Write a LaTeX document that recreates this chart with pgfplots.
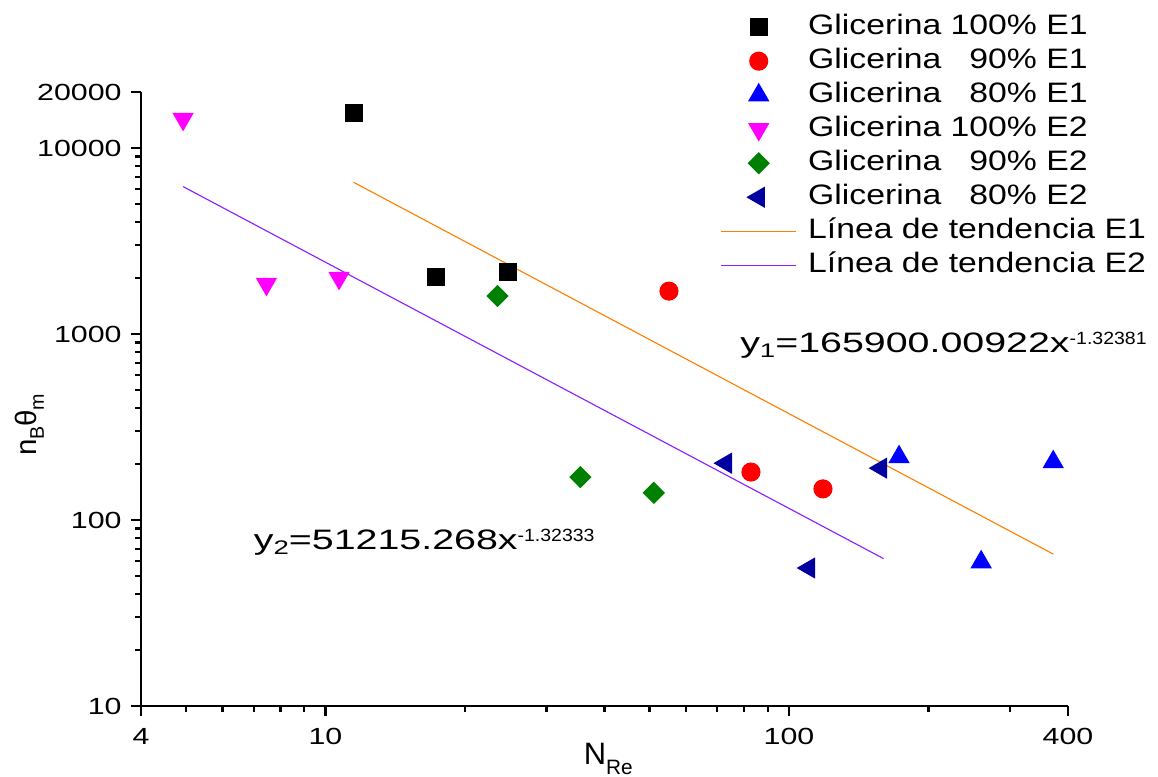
\documentclass[border=0pt]{standalone}
\usepackage{fontspec}
\setmainfont{Liberation Sans}
\newfontfamily\legfont{Liberation Sans}[FakeStretch=1.2]
\newfontfamily\tickfont{Liberation Sans}[FakeStretch=1.3]
\newfontfamily\annfont{Liberation Sans}[FakeStretch=1.4]
\newfontfamily\supfont{Liberation Sans}[FakeStretch=1.1]
\usepackage{pgfplots}
\pgfplotsset{compat=1.18}
\definecolor{trendA}{RGB}{255,128,0}
\definecolor{trendB}{RGB}{140,30,255}
\definecolor{navyB}{RGB}{0,0,160}
\definecolor{greenB}{RGB}{0,128,0}
\definecolor{magB}{RGB}{255,0,255}
\definecolor{redB}{RGB}{255,0,0}
\definecolor{blueB}{RGB}{0,0,255}

\begin{document}
\begin{tikzpicture}
\useasboundingbox (-1.7625,-0.875) rectangle (12.7125,8.825);
\begin{loglogaxis}[
scale only axis,
width=11.5875cm,
height=7.675cm,
xmin=4, xmax=400,
ymin=10, ymax=20000,
axis lines*=left,
axis line style={line width=0.9pt},
tick align=outside,
major tick length=0.12cm,
minor tick length=0.07cm,
tick style={black, line width=0.8pt},
xtick={4,10,100,400},
xticklabels={4,10,100,400},
minor xtick={5,6,7,8,9,20,30,40,50,60,70,80,90,200,300},
ytick={10,100,1000,10000,20000},
yticklabels={10,100,1000,10000,20000},
minor ytick={20,30,40,50,60,70,80,90,200,300,400,500,600,700,800,900,2000,3000,4000,5000,6000,7000,8000,9000},
tick label style={font=\tickfont\fontsize{8.3}{10}\selectfont},
xticklabel style={yshift=-1pt},
xlabel={N\raisebox{-3.5pt}{\fontsize{7.4}{9}\selectfont Re}},
xlabel style={at={(axis description cs:0.504,-0.096)}, anchor=base, inner sep=0pt, font=\fontsize{11}{13}\selectfont},
ylabel={n\raisebox{-2.5pt}{\fontsize{7}{8}\selectfont B}θ\raisebox{-2.5pt}{\fontsize{7}{8}\selectfont m}},
ylabel style={at={(axis description cs:-0.12,0.458)}, anchor=center, font=\fontsize{10.5}{12}\selectfont},
legend cell align=left,
legend image code/.code={\draw[mark repeat=2,mark phase=2,#1] plot coordinates {(0cm,0cm) (0.47cm,0cm) (0.94cm,0cm)};},
legend style={at={(axis description cs:0.6246,1.134)}, anchor=north west, draw=none, fill=none,
  font=\legfont\fontsize{10}{12}\selectfont, inner sep=0pt, row sep=0.1pt, column sep=3pt,
  nodes={inner sep=1pt, text height=7.5pt, text depth=2.5pt}},
clip=false,
]
% E1
\addplot[only marks, mark=square*, mark size=3pt, black] coordinates {
(11.5,15400) (17.3,2025) (24.8,2155)
};
\addlegendentry{Glicerina 100\% E1}
\addplot[only marks, mark=*, mark size=3.2pt, redB] coordinates {
(55.1,1700) (82.8,181) (118.4,147)
};
\addlegendentry{Glicerina \phantom{1}90\% E1}
\addplot[only marks, mark=triangle*, mark size=4pt, blueB] coordinates {
(172.8,218) (259.8,59.4) (371.7,205)
};
\addlegendentry{Glicerina \phantom{1}80\% E1}
% E2
\addplot[only marks, mark=triangle*, mark size=4pt, magB, mark options={rotate=180}] coordinates {
(4.93,14320) (7.46,1857) (10.7,2000)
};
\addlegendentry{Glicerina 100\% E2}
\addplot[only marks, mark=square*, mark size=2.6pt, greenB, mark options={rotate=45}] coordinates {
(23.5,1600) (35.5,170) (51.1,140)
};
\addlegendentry{Glicerina \phantom{1}90\% E2}
\addplot[only marks, mark=triangle*, mark size=4pt, navyB, mark options={rotate=90}] coordinates {
(73.1,202) (110.5,55.2) (158,190)
};
\addlegendentry{Glicerina \phantom{1}80\% E2}
% trend lines
\addplot[trendA, line width=0.4pt, no markers] coordinates {
(11.5,6540) (372,65.5)
};
\addlegendentry{Línea de tendencia E1}
\addplot[trendB, line width=0.4pt, no markers] coordinates {
(4.93,6200) (160,62)
};
\addlegendentry{Línea de tendencia E2}
\node[anchor=base west, inner sep=0pt, font=\annfont\fontsize{10}{12}\selectfont] at (axis cs:78.3,800)
  {y\raisebox{-1.8pt}{\fontsize{7}{8}\selectfont 1}=165900.00922x\raisebox{2.8pt}{\supfont\fontsize{6.3}{8}\selectfont -1.32381}};
\node[anchor=base west, inner sep=0pt, font=\annfont\fontsize{10}{12}\selectfont] at (axis cs:6.99,69.8)
  {y\raisebox{-1.8pt}{\fontsize{7}{8}\selectfont 2}=51215.268x\raisebox{2.8pt}{\supfont\fontsize{6.3}{8}\selectfont -1.32333}};
\end{loglogaxis}
\end{tikzpicture}
\end{document}
